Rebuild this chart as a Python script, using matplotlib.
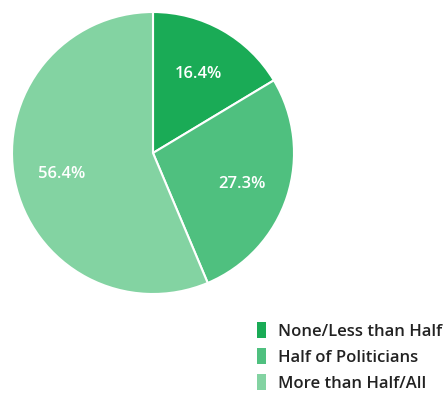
import matplotlib
matplotlib.use("Agg")
import matplotlib.pyplot as plt
from matplotlib.patches import Patch

categories = ["None/Less than Half", "Half of Politicians", "More than Half/All"]
values = [16.4, 27.3, 56.4]
colors = ["#1aab56", "#4fc07f", "#83d3a2"]

plt.rcParams['font.family'] = ['Open Sans', 'DejaVu Sans']

fig = plt.figure(figsize=(4.44, 3.93), dpi=100)
ax = fig.add_axes([12/444, 99/393, 282/444, 282/393])
wedges, texts, autotexts = ax.pie(values, colors=colors, startangle=90, counterclock=False,
       autopct=lambda p: f"{p:.1f}%", pctdistance=0.66,
       wedgeprops=dict(edgecolor="white", linewidth=1.5),
       textprops=dict(color="white", fontsize=12, fontweight="semibold"))
for t, v in zip(autotexts, values):
    t.set_text(f"{v:.1f}%")
    x, y = t.get_position()
    t.set_position((x, y - 0.015))
ax.set_xlim(-1, 1)
ax.set_ylim(-1, 1)
ax.set_aspect('equal')

handles = [Patch(facecolor=c, edgecolor='none') for c in colors]
leg = fig.legend(handles, categories, loc='upper left', bbox_to_anchor=(257/444, 1 - 322/393),
                 frameon=False, handlelength=0.55, handleheight=1.1, handletextpad=0.7,
                 labelspacing=0.5, prop=dict(size=12, weight='semibold'), borderaxespad=0,
                 borderpad=0)
for t in leg.get_texts():
    t.set_color('#222222')

fig.savefig("out.png", dpi=100)
